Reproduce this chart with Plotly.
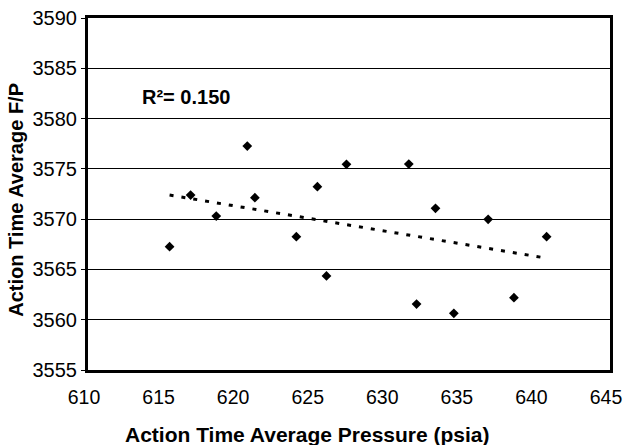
import numpy as np
import plotly.graph_objects as go

# Action-time averages for each firing
pressure_psia = [615.47, 616.88, 618.60, 620.68, 621.19, 623.97, 625.38, 627.33,
                 625.99, 631.51, 633.30, 632.03, 634.53, 636.83, 638.56, 640.75]
f_over_p = [3567.26, 3572.40, 3570.31, 3577.27, 3572.13, 3568.25, 3573.23, 3575.45,
            3564.35, 3575.48, 3571.08, 3561.56, 3560.64, 3569.98, 3562.19, 3568.25]

x_ticks = [610, 615, 620, 625, 630, 635, 640, 645]
y_ticks = [3555, 3560, 3565, 3570, 3575, 3580, 3585, 3590]
r_squared_label = "R²= 0.150"

# Least-squares linear trend across the data span
slope, intercept = np.polyfit(pressure_psia, f_over_p, 1)
trend_x = np.array([min(pressure_psia), max(pressure_psia)])
trend_y = slope * trend_x + intercept

FONT = "Liberation Sans, Arial, sans-serif"

fig = go.Figure()
fig.add_trace(go.Scatter(
    x=trend_x, y=trend_y, mode="lines",
    line=dict(color="black", width=3, dash="4px,8px"),
    hoverinfo="skip", showlegend=False,
))
fig.add_trace(go.Scatter(
    x=pressure_psia, y=f_over_p, mode="markers",
    marker=dict(symbol="diamond", size=7.5, color="black"),
    showlegend=False,
))

fig.update_layout(
    width=623, height=445,
    margin=dict(l=88, r=13, t=18, b=75, autoexpand=False),
    paper_bgcolor="white", plot_bgcolor="white",
    font=dict(family=FONT, color="black", size=20),
    xaxis=dict(
        range=[610, 645], tickvals=x_ticks, ticktext=[str(v) for v in x_ticks],
        showgrid=False, zeroline=False, automargin=False,
        showline=True, linecolor="black", linewidth=3, mirror=True,
        ticks="", ticklabelstandoff=8, ticklabelshift=-4,
        ticklabeloverflow="allow",
        tickfont=dict(size=19.5, family=FONT, color="black"),
    ),
    yaxis=dict(
        range=[3555, 3590], tickvals=y_ticks, ticktext=[str(v) for v in y_ticks],
        showgrid=True, gridcolor="black", gridwidth=1.4, zeroline=False,
        automargin=False,
        showline=True, linecolor="black", linewidth=3, mirror=True,
        ticks="outside", ticklen=4, tickcolor="black", tickwidth=1,
        tickfont=dict(size=20, family=FONT, color="black"),
    ),
    annotations=[
        dict(text="<b>Action Time Average Pressure (psia)</b>",
             xref="paper", yref="paper", x=0.421, y=-0.182,
             xanchor="center", yanchor="middle", showarrow=False,
             font=dict(size=21, family=FONT, color="black")),
        dict(text="<b>Action Time Average F/P</b>",
             xref="paper", yref="paper", x=-0.137, y=0.485, textangle=-90,
             xanchor="center", yanchor="middle", showarrow=False,
             font=dict(size=20, family=FONT, color="black")),
        dict(text="<b>" + r_squared_label + "</b>",
             xref="paper", yref="paper", x=0.0988, y=0.776,
             xanchor="left", yanchor="middle", showarrow=False,
             font=dict(size=20, family=FONT, color="black")),
    ],
)

fig.write_html("out.html")
